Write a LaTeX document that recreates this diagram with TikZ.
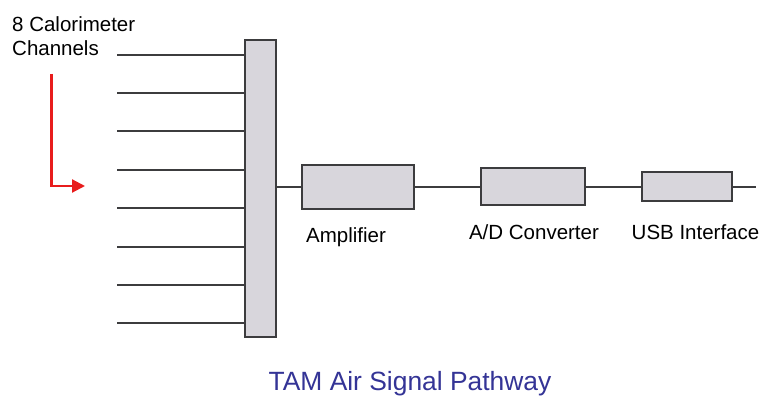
\documentclass[tikz,border=0pt]{standalone}
\usepackage{fontspec}
\setmainfont{Liberation Sans}
\usetikzlibrary{arrows.meta}
\definecolor{boxfill}{RGB}{216,214,220}
\definecolor{linegray}{RGB}{60,60,62}
\definecolor{titleblue}{RGB}{52,52,150}
\definecolor{arrowred}{RGB}{232,28,28}
\tikzset{
  blockbox/.style={draw=linegray, line width=2pt, fill=boxfill, inner sep=0pt},
  wire/.style={draw=linegray, line width=2.6pt},
  owire/.style={draw=linegray, line width=2pt},
  lbl/.style={font=\fontsize{20.5}{24}\selectfont, inner sep=0pt, text=black},
}
\begin{document}
\begin{tikzpicture}[x=1pt,y=-1pt]
\useasboundingbox (0,0) rectangle (763,396);
\fill[white] (0,0) rectangle (763,396);
% channel line start points
\foreach \i/\yy in {0/55,1/93,2/131,3/170,4/208,5/247,6/285,7/323} {
  \coordinate (c\i) at (117,\yy);
}
% main bar
\node[blockbox, minimum width=31pt, minimum height=297pt] (bar) at (260.5,188.5) {};
\foreach \i in {0,...,7} {
  \draw[wire] (c\i) -- (c\i -| bar.west);
}
% blocks
\node[blockbox, minimum width=112pt, minimum height=44pt] (amp) at (358.3,186.5) {};
\node[blockbox, minimum width=104pt, minimum height=37pt] (adc) at (533,186.5) {};
\node[blockbox, minimum width=90pt, minimum height=28.5pt] (usb) at (687.3,186.5) {};
\coordinate (out) at (756,186.5);
\draw[owire] (bar.east |- amp.west) -- (amp.west);
\draw[owire] (amp.east) -- (adc.west);
\draw[owire] (adc.east) -- (usb.west);
\draw[owire] (usb.east) -- (out);
% labels
\node[lbl, anchor=west] (lbl1) at (12,24) {8 Calorimeter};
\node[lbl, anchor=west] (lbl2) at (12,48) {Channels};
\node[lbl] (ampl) at (346,237) {Amplifier};
\node[lbl] (adcl) at (534,232) {A/D Converter};
\node[lbl] (usbl) at (695.5,232) {USB Interface};
% red arrow
\coordinate (r0) at (51.5,74);
\coordinate (r1) at (51.5,186);
\coordinate (r2) at (85,186);
\draw[draw=arrowred, line width=2.2pt, -{Triangle[length=13pt,width=13pt]}] (r0) -- (r1) -- (r2);
% title
\node[font=\fontsize{26.4}{30}\selectfont, text=titleblue, inner sep=0pt] (title) at (410,384) {TAM Air Signal Pathway};
\end{tikzpicture}
\end{document}
